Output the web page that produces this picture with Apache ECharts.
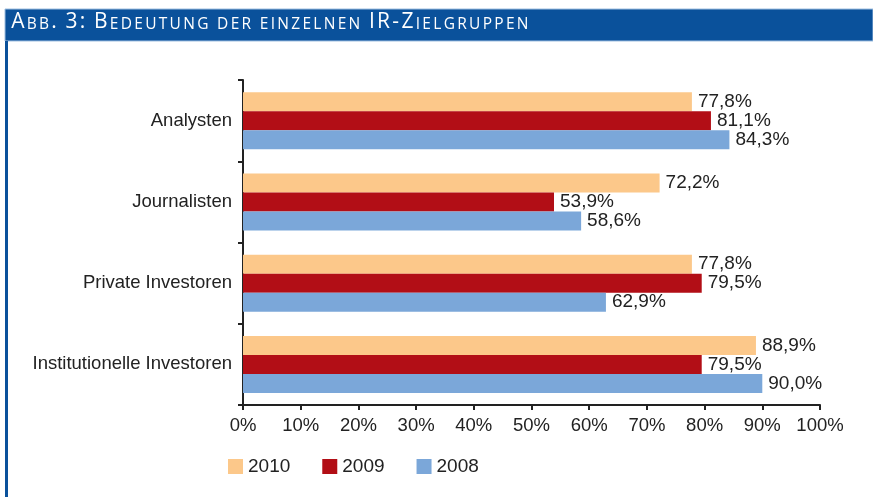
<!DOCTYPE html>
<html><head><meta charset="utf-8">
<script src="https://cdn.jsdelivr.net/npm/echarts@6/dist/echarts.min.js"></script>
<style>html,body{margin:0;padding:0;background:#fff}#c{width:873px;height:497px}</style>
</head><body><div id="c"></div>
<script>
const categories = ['Analysten', 'Journalisten', 'Private Investoren', 'Institutionelle Investoren'];
const seriesNames = ['2010', '2009', '2008'];
const values2010 = [77.8, 72.2, 77.8, 88.9];
const values2009 = [81.1, 53.9, 79.5, 79.5];
const values2008 = [84.3, 58.6, 62.9, 90.0];
const colors = ['#fcc88a', '#b20e16', '#7ba7d9'];
const titleText = 'Abb. 3: Bedeutung der einzelnen IR-Zielgruppen';

const chart = echarts.init(document.getElementById('c'));
const data = [values2010, values2009, values2008];
const fmt = p => p.value.toFixed(1).replace('.', ',') + '%';
// small caps: capital letters large, others as smaller capitals
const richTitle = titleText.split('').map(ch => {
  const isCap = ch !== ch.toLowerCase() || /[0-9:.\-]/.test(ch);
  const c = ch === ' ' ? '\u00a0' : ch.toUpperCase();
  return '{' + (isCap ? 'b' : 's') + '|' + c + '}';
}).join('');
chart.setOption({
  animation: false,
  textStyle: { fontFamily: 'Liberation Sans, Arial, sans-serif' },
  grid: { left: 243, right: 53, top: 80, bottom: 92 },
  xAxis: {
    type: 'value', min: 0, max: 100, interval: 10,
    axisLine: { show: true, lineStyle: { color: '#222', width: 2 } },
    axisTick: { show: true, length: 5, lineStyle: { color: '#222', width: 2 } },
    splitLine: { show: false },
    axisLabel: { formatter: '{value}%', color: '#222', fontSize: 18.5, margin: 11 }
  },
  yAxis: {
    type: 'category', data: categories, inverse: true,
    axisLine: { show: true, lineStyle: { color: '#222', width: 2 } },
    axisTick: { show: true, length: 5, lineStyle: { color: '#222', width: 2 } },
    axisLabel: { color: '#222', fontSize: 18.5, margin: 11 }
  },
  legend: {
    top: 457, left: 228, padding: 0, itemWidth: 15, itemHeight: 15, itemGap: 32,
    icon: 'rect',
    textStyle: { color: '#222', fontSize: 19 },
    data: seriesNames
  },
  series: seriesNames.map((n, i) => ({
    name: n, type: 'bar', data: data[i], barWidth: 19, barGap: '0%',
    itemStyle: { color: colors[i] },
    label: { show: true, position: 'right', distance: 6, color: '#222', fontSize: 19, formatter: fmt }
  })),
  graphic: [
    { type: 'rect', shape: { x: 5, y: 9, width: 868, height: 32 }, style: { fill: '#0a519b', stroke: '#9fbfe0', lineWidth: 1 }, z: 10 },
    { type: 'rect', shape: { x: 5, y: 41, width: 3, height: 456 }, style: { fill: '#0a519b' }, z: 10 },
    { type: 'text', x: 10, y: 22, z: 11,
      style: {
        text: richTitle,
        verticalAlign: 'middle',
        rich: {
          b: { fontSize: 21, fill: '#fff', fontFamily: 'Open Sans, sans-serif', padding: [0, 1.15, 0, 1.15], verticalAlign: 'bottom' },
          s: { fontSize: 15.5, fill: '#fff', fontFamily: 'Open Sans, sans-serif', padding: [0, 1.15, 0, 1.15], verticalAlign: 'bottom' }
        }
      }
    }
  ]
});
</script></body></html>
